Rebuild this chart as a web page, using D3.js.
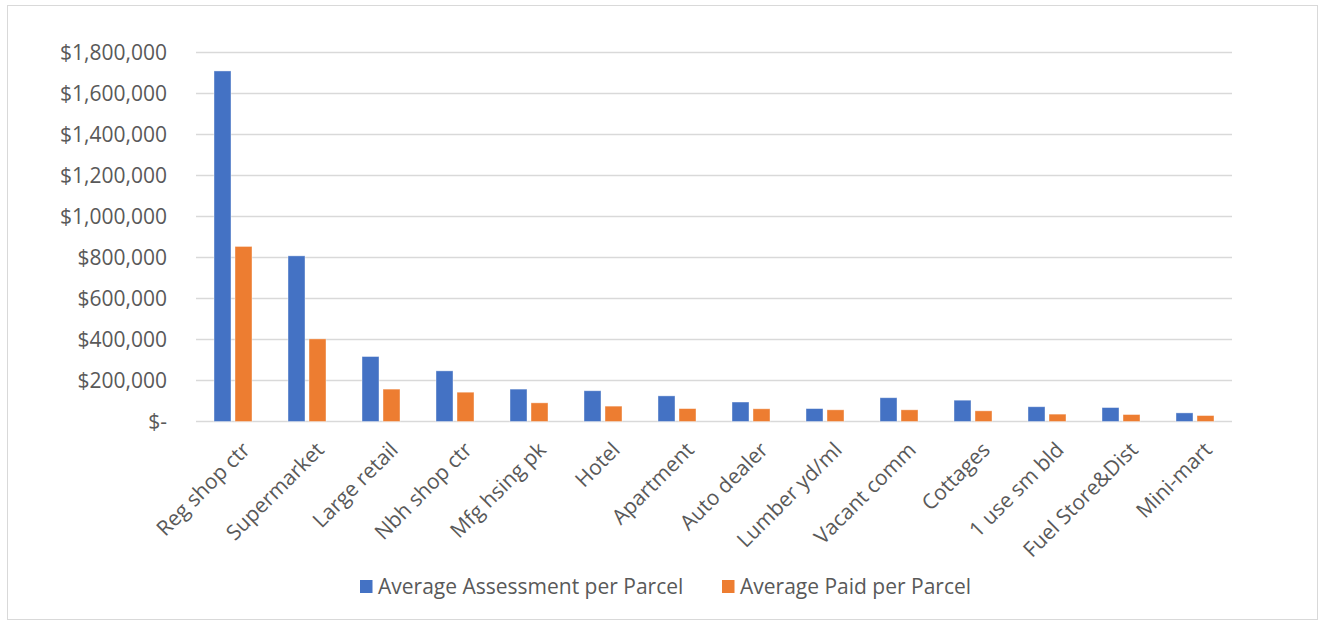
<!DOCTYPE html>
<html>
<head>
<meta charset="utf-8">
<script src="https://cdn.jsdelivr.net/npm/d3@7"></script>
<style>
  body { margin: 0; background: #fff; }
  text { font-family: "Open Sans", "Noto Sans", sans-serif; fill: #595959; }
</style>
</head>
<body>
<svg width="1325" height="624"></svg>
<script>
// data ======================================================
var categories = ["Reg shop ctr", "Supermarket", "Large retail", "Nbh shop ctr", "Mfg hsing pk",
  "Hotel", "Apartment", "Auto dealer", "Lumber yd/ml", "Vacant comm", "Cottages",
  "1 use sm bld", "Fuel Store&Dist", "Mini-mart"];
var assessment = [1710000, 808000, 317000, 247000, 158000, 150000, 125000, 95000, 63000,
  116000, 104000, 72000, 68000, 42000];
var paid = [854000, 403000, 158000, 143000, 91000, 75000, 63000, 62000, 57000,
  57000, 52000, 36000, 34000, 29000];
var seriesNames = ["Average Assessment per Parcel", "Average Paid per Parcel"];
var seriesColors = ["#4472C4", "#ED7D31"];
var yTicks = [0, 200000, 400000, 600000, 800000, 1000000, 1200000, 1400000, 1600000, 1800000];

// layout ====================================================
var svg = d3.select("svg");
var plot = { left: 196, right: 1232, top: 52.5, bottom: 421.5 };

svg.append("rect")
  .attr("x", 7.5).attr("y", 5.5).attr("width", 1310).attr("height", 614)
  .attr("fill", "#fff").attr("stroke", "#d9d9d9").attr("stroke-width", 1);

var x = d3.scaleBand().domain(categories).range([plot.left, plot.right]);
var y = d3.scaleLinear().domain([0, 1800000]).range([plot.bottom, plot.top]);

var fmt = function(v) { return v === 0 ? "$-" : "$" + d3.format(",")(v); };

// gridlines
svg.append("g")
  .selectAll("line")
  .data(yTicks)
  .enter().append("line")
  .attr("x1", plot.left).attr("x2", plot.right)
  .attr("y1", function(d) { return y(d); })
  .attr("y2", function(d) { return y(d); })
  .attr("stroke", "#d9d9d9").attr("stroke-width", 1.3);

// y labels
svg.append("g")
  .selectAll("text")
  .data(yTicks)
  .enter().append("text")
  .attr("x", 167)
  .attr("y", function(d) { return y(d); })
  .attr("dy", "0.36em")
  .attr("text-anchor", "end")
  .style("font-size", "21px")
  .text(fmt);

// bars
var barW = 17, innerGap = 4;
var groups = svg.append("g")
  .selectAll("g")
  .data(categories)
  .enter().append("g")
  .attr("transform", function(d) { return "translate(" + (x(d) + x.bandwidth() / 2) + ",0)"; });

[assessment, paid].forEach(function(values, s) {
  groups.append("rect")
    .attr("x", s === 0 ? -barW - innerGap / 2 : innerGap / 2)
    .attr("width", barW)
    .attr("y", function(d, i) { return y(values[i]); })
    .attr("height", function(d, i) { return y(0) - y(values[i]); })
    .attr("fill", seriesColors[s])
    .attr("stroke", "#fff").attr("stroke-opacity", 0.5).attr("stroke-width", 0.8);
});

// x labels
groups.append("text")
  .attr("text-anchor", "end")
  .attr("transform", "translate(13,446) rotate(-45)")
  .attr("dy", "0.35em")
  .style("font-size", "21px")
  .text(function(d) { return d; });

// legend
var legendX = [360, 722];
var legend = svg.append("g")
  .selectAll("g")
  .data(seriesNames)
  .enter().append("g")
  .attr("transform", function(d, i) { return "translate(" + legendX[i] + ",580)"; });
legend.append("rect")
  .attr("width", 12.5).attr("height", 13)
  .attr("fill", function(d, i) { return seriesColors[i]; });
legend.append("text")
  .attr("x", 18).attr("y", 6.5).attr("dy", "0.36em")
  .style("font-size", "21px")
  .text(function(d) { return d; });
</script>
</body>
</html>
